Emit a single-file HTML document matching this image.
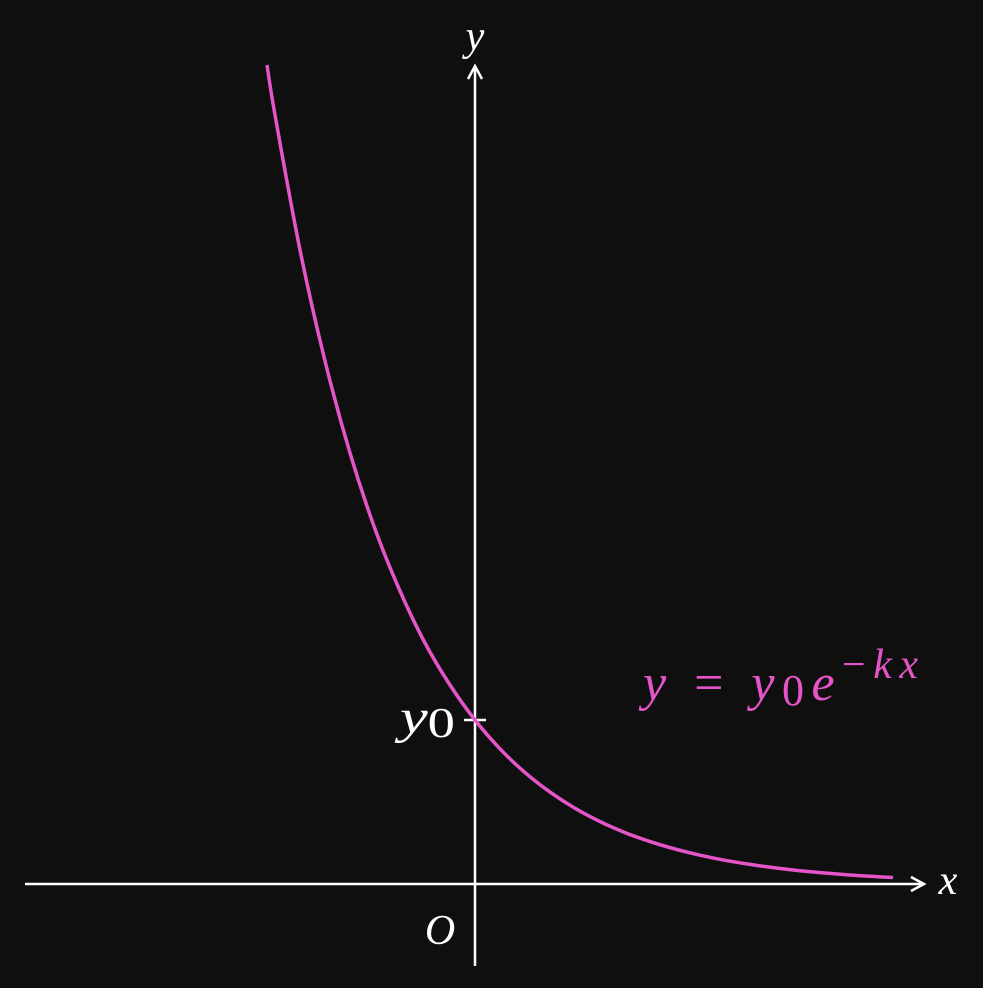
<!DOCTYPE html>
<html><head><meta charset="utf-8"><style>
html,body{margin:0;padding:0;background:#0f0f10;}
svg{display:block}
text{font-family:"Liberation Serif",serif;font-style:italic;}
</style></head><body>
<svg width="983" height="988" viewBox="0 0 983 988" xmlns="http://www.w3.org/2000/svg">
<rect x="0" y="0" width="983" height="988" fill="#0f0f10"/>
<g id="axes" stroke="#ffffff" stroke-width="2.5" fill="none">
<line x1="25" y1="884" x2="922" y2="884"/>
<polyline points="911,877 924,884 911,891"/>
<line x1="475" y1="966" x2="475" y2="68"/>
<polyline points="468,79 475,66 482,79"/>
<line x1="464" y1="720" x2="486" y2="720"/>
</g>
<path id="curve" fill="none" stroke="#e655c8" stroke-width="3.5"/>
<text x="475" y="50" fill="#fff" font-size="42" text-anchor="middle">y</text>
<text x="948" y="894" fill="#fff" font-size="42" text-anchor="middle">x</text>
<text x="440" y="944" fill="#fff" font-size="42" text-anchor="middle">O</text>
<text x="400" y="733" fill="#fff" font-size="48" textLength="55" lengthAdjust="spacingAndGlyphs">y<tspan font-style="normal" font-size="42" dy="4">0</tspan></text>
<text x="643" y="700" fill="#e655c8" font-size="52" textLength="275" lengthAdjust="spacing">y <tspan font-style="normal">=</tspan> y<tspan font-style="normal" font-size="44" dy="5">0</tspan><tspan dy="-5">e</tspan><tspan font-size="42" dy="-22"><tspan font-style="normal">−</tspan>kx</tspan></text>
</svg>
<script>
const xValues=[-2.08,-2,-1.75,-1.5,-1.25,-1,-0.75,-0.5,-0.25,0,0.25,0.5,0.75,1,1.25,1.5,1.75,2,2.25,2.5,2.75,3,3.25,3.5,3.75,4,4.18];
const yValues=[8.19,7.69,6.34,5.23,4.31,3.55,2.93,2.41,1.99,1.64,1.352,1.114,0.919,0.757,0.624,0.514,0.424,0.350,0.288,0.237,0.196,0.161,0.133,0.110,0.090,0.0745,0.065];
const X0=475,Y0=884,S=100;
function sx(v){return X0+v*S;}
function sy(v){return Y0-v*S;}
const p=xValues.map((x,i)=>[sx(x),sy(yValues[i])]);
let d="M"+p[0][0]+","+p[0][1];
for(let i=0;i<p.length-1;i++){
 const a=p[Math.max(0,i-1)],b=p[i],c=p[i+1],e=p[Math.min(p.length-1,i+2)];
 const c1=[b[0]+(c[0]-a[0])/6,b[1]+(c[1]-a[1])/6],c2=[c[0]-(e[0]-b[0])/6,c[1]-(e[1]-b[1])/6];
 d+=" C"+c1[0]+","+c1[1]+" "+c2[0]+","+c2[1]+" "+c[0]+","+c[1];
}
document.getElementById('curve').setAttribute('d',d);
</script>
</body></html>
